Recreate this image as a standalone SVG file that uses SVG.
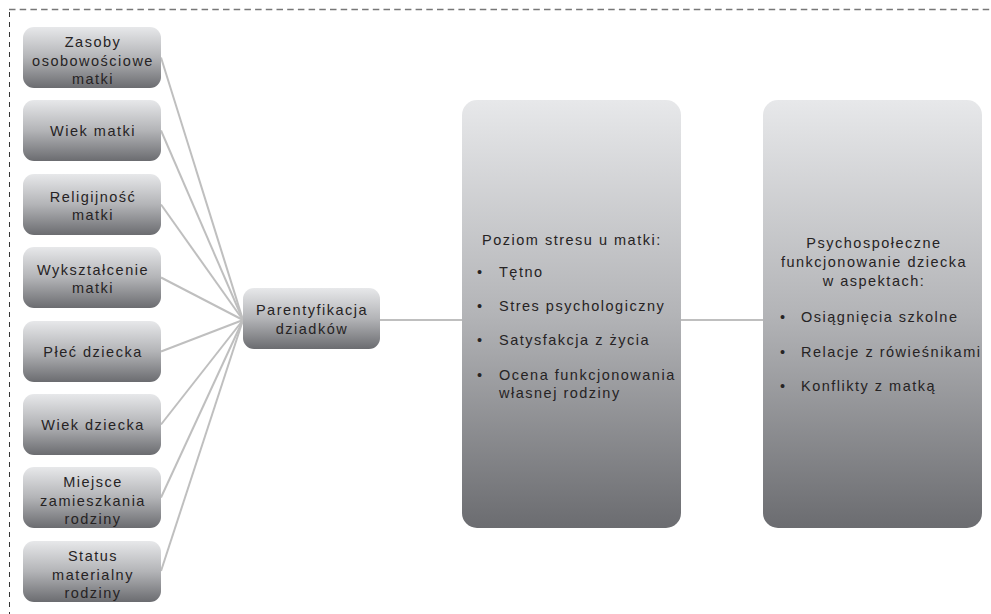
<svg xmlns="http://www.w3.org/2000/svg" width="991" height="614" viewBox="0 0 991 614">
<defs>
<linearGradient id="g" x1="0" y1="0" x2="0" y2="1">
<stop offset="0" stop-color="#e7e8ea"/>
<stop offset="0.5" stop-color="#b3b4b7"/>
<stop offset="1" stop-color="#6b6c70"/>
</linearGradient>
<style>
.box{fill:url(#g);}
text{font-family:"Liberation Sans",Arial,sans-serif;font-size:14.5px;fill:#262324;letter-spacing:1.5px;}
.c{text-anchor:middle;}
.conn{stroke:#bfbfbf;stroke-width:2;fill:none;}
</style>
</defs>
<rect width="991" height="614" fill="#ffffff"/>
<g id="frame">
<line x1="9" y1="9.5" x2="991" y2="9.5" stroke="#777" stroke-width="1.6" stroke-dasharray="6.5 4.2"/>
<line x1="9.5" y1="12" x2="9.5" y2="614" stroke="#333" stroke-width="1" stroke-dasharray="5 5"/>
</g>
<g id="connectors">
<line class="conn" x1="161" y1="57.5" x2="243" y2="320"/>
<line class="conn" x1="161" y1="130.5" x2="243" y2="320"/>
<line class="conn" x1="161" y1="204.5" x2="243" y2="320"/>
<line class="conn" x1="161" y1="277.5" x2="243" y2="320"/>
<line class="conn" x1="161" y1="351.5" x2="243" y2="320"/>
<line class="conn" x1="161" y1="424.5" x2="243" y2="320"/>
<line class="conn" x1="161" y1="497.5" x2="243" y2="320"/>
<line class="conn" x1="161" y1="571" x2="243" y2="320"/>
<line class="conn" x1="380" y1="320" x2="462" y2="320"/>
<line class="conn" x1="681" y1="320" x2="763" y2="320"/>
</g>
<g id="n1"><rect class="box" x="23" y="27" width="138" height="61" rx="11"/>
<text class="c" x="93" y="47">Zasoby</text><text class="c" x="93" y="65.5">osobowościowe</text><text class="c" x="93" y="84">matki</text></g>
<g id="n2"><rect class="box" x="23" y="100" width="138" height="61" rx="11"/>
<text class="c" x="93" y="136">Wiek matki</text></g>
<g id="n3"><rect class="box" x="23" y="174" width="138" height="61" rx="11"/>
<text class="c" x="93" y="201.5">Religijność</text><text class="c" x="93" y="220">matki</text></g>
<g id="n4"><rect class="box" x="23" y="247" width="138" height="61" rx="11"/>
<text class="c" x="93" y="274.5">Wykształcenie</text><text class="c" x="93" y="293">matki</text></g>
<g id="n5"><rect class="box" x="23" y="321" width="138" height="61" rx="11"/>
<text class="c" x="93" y="357">Płeć dziecka</text></g>
<g id="n6"><rect class="box" x="23" y="394" width="138" height="61" rx="11"/>
<text class="c" x="93" y="430">Wiek dziecka</text></g>
<g id="n7"><rect class="box" x="23" y="467" width="138" height="61" rx="11"/>
<text class="c" x="93" y="487">Miejsce</text><text class="c" x="93" y="505.5">zamieszkania</text><text class="c" x="93" y="524">rodziny</text></g>
<g id="n8"><rect class="box" x="23" y="541" width="138" height="61" rx="11"/>
<text class="c" x="93" y="561">Status</text><text class="c" x="93" y="579.5">materialny</text><text class="c" x="93" y="598">rodziny</text></g>
<g id="parent"><rect class="box" x="243" y="288" width="137" height="61" rx="11"/>
<text class="c" x="312" y="315">Parentyfikacja</text><text class="c" x="312" y="333.5">dziadków</text></g>
<g id="stres"><rect class="box" x="462" y="100" width="219" height="428" rx="15"/>
<text x="482" y="245">Poziom stresu u matki:</text>
<text x="477" y="277">•</text><text x="499" y="277">Tętno</text>
<text x="477" y="311">•</text><text x="499" y="311">Stres psychologiczny</text>
<text x="477" y="345">•</text><text x="499" y="345">Satysfakcja z życia</text>
<text x="477" y="380">•</text><text x="499" y="380">Ocena funkcjonowania</text>
<text x="499" y="398">własnej rodziny</text></g>
<g id="dziecko"><rect class="box" x="763" y="100" width="219" height="428" rx="15"/>
<text class="c" x="874" y="248">Psychospołeczne</text>
<text class="c" x="874" y="267">funkcjonowanie dziecka</text>
<text class="c" x="874" y="286">w aspektach:</text>
<text x="780" y="322">•</text><text x="801" y="322">Osiągnięcia szkolne</text>
<text x="780" y="357">•</text><text x="801" y="357">Relacje z rówieśnikami</text>
<text x="780" y="391">•</text><text x="801" y="391">Konflikty z matką</text></g>
</svg>
